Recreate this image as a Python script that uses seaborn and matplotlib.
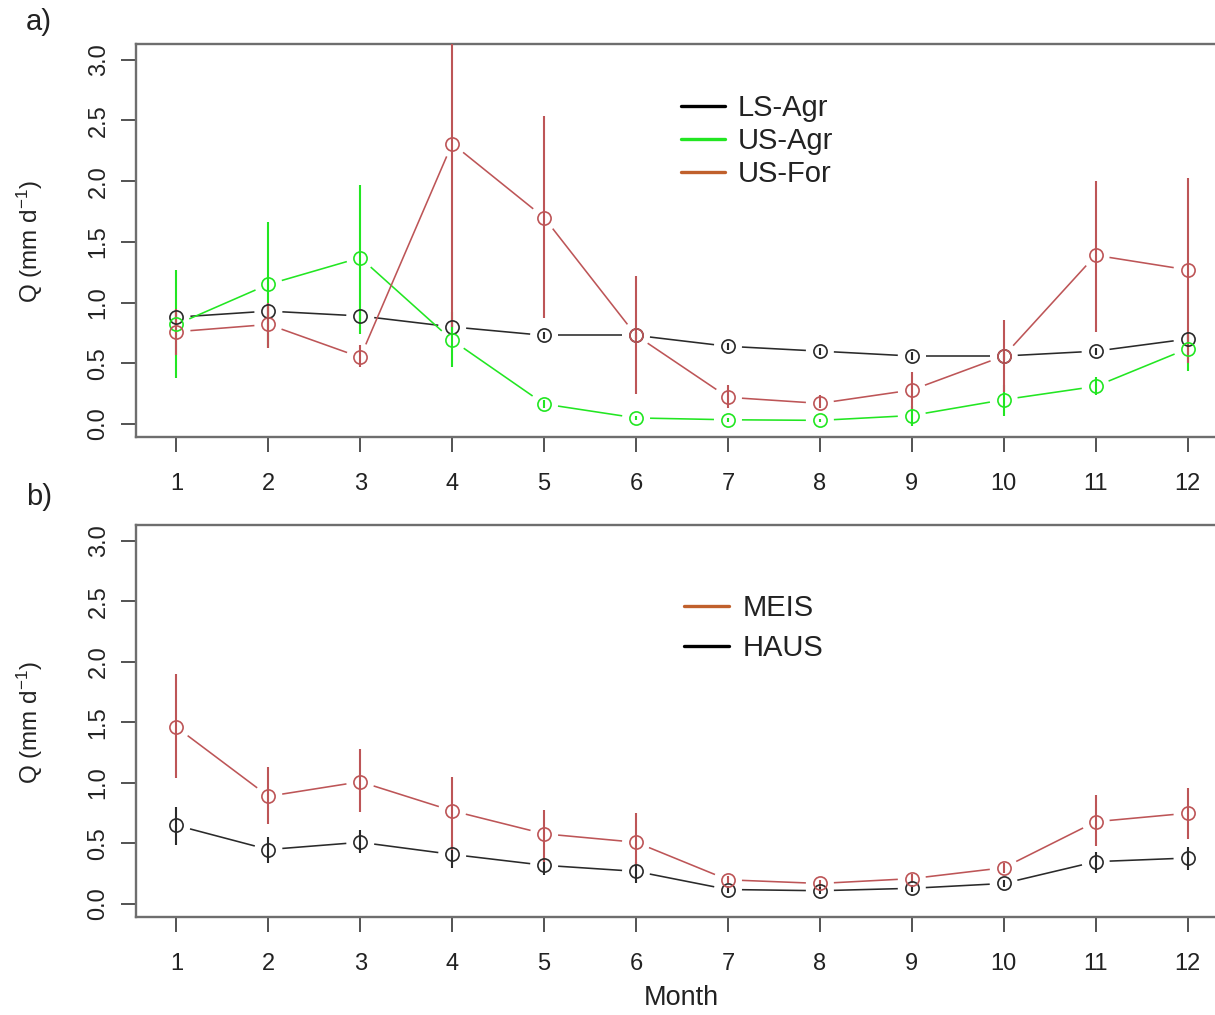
import numpy as np
import pandas as pd
import matplotlib
matplotlib.use("Agg")
import matplotlib.pyplot as plt
import seaborn as sns
from matplotlib.lines import Line2D

# ---------------- data ----------------
months = [1, 2, 3, 4, 5, 6, 7, 8, 9, 10, 11, 12]
month_labels = ["1", "2", "3", "4", "5", "6", "7", "8", "9", "10", "11", "12"]
y_ticks = [0.0, 0.5, 1.0, 1.5, 2.0, 2.5, 3.0]
y_tick_labels = ["0.0", "0.5", "1.0", "1.5", "2.0", "2.5", "3.0"]

# panel a
ls_agr = [0.88, 0.93, 0.89, 0.80, 0.73, 0.73, 0.64, 0.60, 0.56, 0.56, 0.60, 0.70]
ls_agr_lo = [0.83, 0.88, 0.84, 0.76, 0.70, 0.70, 0.61, 0.57, 0.53, 0.53, 0.57, 0.66]
ls_agr_hi = [0.93, 0.98, 0.94, 0.84, 0.76, 0.76, 0.67, 0.63, 0.59, 0.59, 0.63, 0.74]

us_agr = [0.82, 1.15, 1.37, 0.69, 0.165, 0.05, 0.035, 0.03, 0.07, 0.20, 0.31, 0.62]
us_agr_lo = [0.38, 0.63, 0.74, 0.47, 0.13, 0.03, 0.02, 0.015, -0.02, 0.07, 0.24, 0.44]
us_agr_hi = [1.27, 1.66, 1.97, 0.92, 0.20, 0.07, 0.05, 0.045, 0.15, 0.32, 0.39, 0.76]

us_for = [0.76, 0.82, 0.55, 2.31, 1.70, 0.73, 0.22, 0.17, 0.28, 0.56, 1.39, 1.27]
us_for_lo = [0.57, 0.63, 0.47, 0.80, 0.87, 0.25, 0.13, 0.13, 0.12, 0.26, 0.76, 0.50]
us_for_hi = [0.95, 1.00, 0.65, 3.40, 2.54, 1.22, 0.32, 0.24, 0.43, 0.86, 2.00, 2.03]

# panel b
meis = [1.46, 0.89, 1.01, 0.77, 0.58, 0.51, 0.20, 0.17, 0.21, 0.30, 0.68, 0.75]
meis_lo = [1.04, 0.66, 0.76, 0.45, 0.35, 0.32, 0.17, 0.14, 0.17, 0.26, 0.48, 0.54]
meis_hi = [1.90, 1.13, 1.28, 1.05, 0.78, 0.75, 0.23, 0.20, 0.25, 0.34, 0.90, 0.96]

haus = [0.65, 0.45, 0.51, 0.41, 0.32, 0.27, 0.12, 0.11, 0.13, 0.17, 0.35, 0.38]
haus_lo = [0.49, 0.34, 0.42, 0.30, 0.24, 0.17, 0.09, 0.08, 0.10, 0.14, 0.26, 0.28]
haus_hi = [0.80, 0.55, 0.61, 0.49, 0.38, 0.35, 0.15, 0.14, 0.16, 0.20, 0.43, 0.47]

series_a = ["LS-Agr", "US-Agr", "US-For"]
series_b = ["MEIS", "HAUS"]

# ---------------- style ----------------
sns.set_theme(style="white")
plt.rcParams["font.family"] = ["Liberation Sans", "DejaVu Sans"]
plt.rcParams["mathtext.default"] = "regular"

C_BLACK = "#2a2a2a"
C_GREEN = "#22e622"
C_RED = "#bd5557"
C_LEG_RED = "#c0602c"

W, H = 1215, 1015
fig = plt.figure(figsize=(W / 100, H / 100), dpi=100)
ax1 = fig.add_axes([136 / W, 1 - 437 / H, (1228 - 136) / W, (437 - 44) / H])
ax2 = fig.add_axes([136 / W, 1 - 917 / H, (1228 - 136) / W, (917 - 525) / H])

GAP = 14  # px gap between connecting segments and points (R type="b")


def setup(ax):
    ax.set_xlim(0.56, 12.44)
    ax.set_ylim(-0.107, 3.13)
    ax.set_xticks(months)
    ax.set_xticklabels(month_labels)
    ax.set_yticks(y_ticks)
    ax.set_yticklabels(y_tick_labels, rotation=90, va="center")
    ax.tick_params(axis="both", direction="out", length=11, width=1.3,
                   color="#444444", labelsize=17, labelcolor="#222222",
                   left=True, bottom=True)
    ax.tick_params(axis="x", pad=15)
    ax.tick_params(axis="y", pad=8)
    for s in ax.spines.values():
        s.set_color("#6e6e6e")
        s.set_linewidth(1.7)
        s.set_visible(True)
    ax.set_xlabel("")
    ax.set_ylabel("")


setup(ax1)
setup(ax2)


def draw_series(ax, x, y, lo, hi, color):
    x = np.asarray(x, float)
    y = np.asarray(y, float)
    pts = ax.transData.transform(np.column_stack([x, y]))
    inv = ax.transData.inverted()
    for p0, p1 in zip(pts[:-1], pts[1:]):
        d = p1 - p0
        L = np.hypot(*d)
        if L <= 2 * GAP:
            continue
        u = d / L
        a = inv.transform(p0 + u * GAP)
        b = inv.transform(p1 - u * GAP)
        ax.plot([a[0], b[0]], [a[1], b[1]], color=color, lw=1.15,
                solid_capstyle="butt", zorder=2)
    ax.vlines(x, lo, hi, color=color, lw=1.5, zorder=3)
    df = pd.DataFrame({"Month": x, "Q": y})
    sns.lineplot(data=df, x="Month", y="Q", ax=ax, color=color, marker="o",
                 linestyle="none", mfc="none", mec=color, mew=1.2, ms=9.5,
                 zorder=4)
    ax.set_xlabel("")
    ax.set_ylabel("")


draw_series(ax1, months, ls_agr, ls_agr_lo, ls_agr_hi, C_BLACK)
draw_series(ax1, months, us_agr, us_agr_lo, us_agr_hi, C_GREEN)
draw_series(ax1, months, us_for, us_for_lo, us_for_hi, C_RED)

draw_series(ax2, months, haus, haus_lo, haus_hi, C_BLACK)
draw_series(ax2, months, meis, meis_lo, meis_hi, C_RED)

# legends
h_a = [Line2D([0], [0], color=c, lw=2.4) for c in ["black", C_GREEN, C_LEG_RED]]
leg1 = ax1.legend(h_a, series_a, loc="upper left",
                  bbox_to_anchor=(681 / W, 1 - 94 / H),
                  bbox_transform=fig.transFigure, frameon=False, fontsize=21,
                  handlelength=1.5, handletextpad=0.45, labelspacing=0.17,
                  borderpad=0, borderaxespad=0)
for t in leg1.get_texts():
    t.set_color("#222222")

h_b = [Line2D([0], [0], color=c, lw=2.4) for c in [C_LEG_RED, "black"]]
leg2 = ax2.legend(h_b, series_b, loc="upper left",
                  bbox_to_anchor=(684 / W, 1 - 594 / H),
                  bbox_transform=fig.transFigure, frameon=False, fontsize=21,
                  handlelength=1.55, handletextpad=0.45, labelspacing=0.42,
                  borderpad=0, borderaxespad=0)
for t in leg2.get_texts():
    t.set_color("#222222")

# texts
fig.text(26 / W, 1 - 22 / H, "a)", fontsize=21, ha="left", va="center", color="#222222")
fig.text(26 / W, 1 - 497 / H, "b)", fontsize=21, ha="left", va="center", color="#222222")
fig.text(30 / W, 1 - 241 / H, r"Q (mm d$^{-1}$)", rotation=90, fontsize=17.5,
         ha="center", va="center", color="#222222")
fig.text(30 / W, 1 - 722 / H, r"Q (mm d$^{-1}$)", rotation=90, fontsize=17.5,
         ha="center", va="center", color="#222222")
fig.text(681 / W, 1 - 998 / H, "Month", fontsize=19.5, ha="center", va="center",
         color="#222222")

fig.savefig("out.png", dpi=100, facecolor="white")
